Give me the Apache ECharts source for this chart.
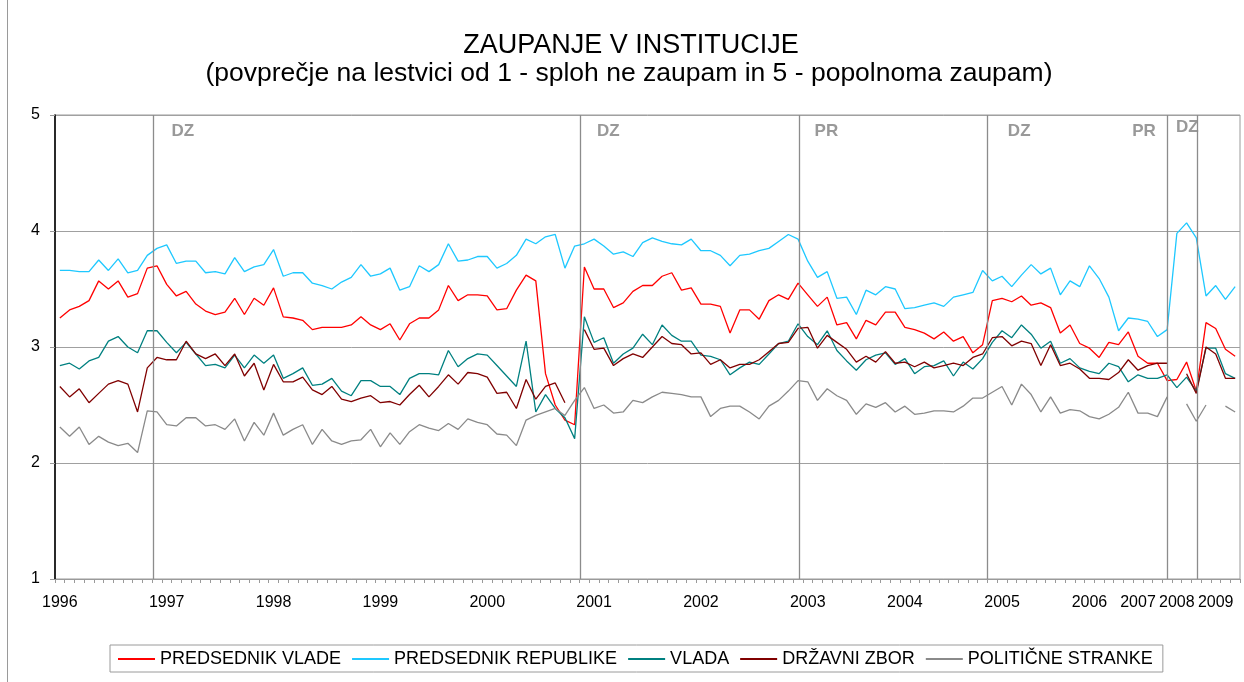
<!DOCTYPE html>
<html>
<head>
<meta charset="utf-8">
<script src="https://cdn.jsdelivr.net/npm/echarts@6/dist/echarts.min.js"></script>
<style>
html,body{margin:0;padding:0;background:#fff;}
#chart{width:1244px;height:682px;}
</style>
</head>
<body>
<div id="chart"></div>
<script>
// ---- data ----
var yearLabels = ['1996','1997','1998','1999','2000','2001','2002','2003','2004','2005','2006','2007','2008','2009'];
var yearIndex  = [0, 11, 22, 33, 44, 55, 66, 77, 87, 97, 106, 111, 115, 119];
var pointCount = 122;

var predsednikVlade = [3.25,3.32,3.35,3.40,3.57,3.50,3.57,3.43,3.46,3.68,3.70,3.54,3.44,3.48,3.37,3.31,3.28,3.30,3.42,3.28,
3.42,3.36,3.51,3.26,3.25,3.23,3.15,3.17,3.17,3.17,3.19,3.26,3.19,3.15,3.20,3.06,3.20,3.25,3.25,3.32,
3.53,3.40,3.45,3.45,3.44,3.32,3.33,3.49,3.62,3.57,2.77,2.50,2.37,2.33,3.69,3.50,3.50,3.34,3.38,3.48,
3.53,3.53,3.61,3.64,3.49,3.51,3.37,3.37,3.35,3.12,3.32,3.32,3.24,3.40,3.45,3.41,3.55,3.45,3.35,3.43,
3.19,3.21,3.07,3.23,3.19,3.30,3.30,3.17,3.15,3.12,3.07,3.13,3.05,3.09,2.95,3.02,3.40,3.42,3.39,3.44,
3.36,3.38,3.34,3.12,3.19,3.03,2.99,2.91,3.04,3.02,3.13,2.92,2.86,2.86,2.71,2.72,2.87,2.62,3.21,3.16,
2.98,2.92];
var predsednikRepublike = [3.66,3.66,3.65,3.65,3.75,3.66,3.76,3.64,3.66,3.79,3.85,3.88,3.72,3.74,3.74,3.64,3.65,3.63,3.77,3.65,
3.69,3.71,3.84,3.61,3.64,3.64,3.55,3.53,3.50,3.56,3.60,3.71,3.61,3.63,3.68,3.49,3.52,3.70,3.65,3.71,
3.89,3.74,3.75,3.78,3.78,3.68,3.72,3.79,3.93,3.89,3.95,3.97,3.68,3.87,3.89,3.93,3.87,3.80,3.82,3.78,
3.90,3.94,3.91,3.89,3.88,3.93,3.83,3.83,3.79,3.70,3.79,3.80,3.83,3.85,3.91,3.97,3.93,3.74,3.60,3.65,
3.42,3.43,3.28,3.49,3.45,3.52,3.50,3.33,3.34,3.36,3.38,3.35,3.43,3.45,3.47,3.66,3.57,3.61,3.52,3.62,
3.71,3.63,3.68,3.45,3.57,3.52,3.70,3.59,3.43,3.14,3.25,3.24,3.22,3.09,3.15,3.98,4.07,3.94,3.44,3.53,
3.41,3.52];
var vlada = [2.84,2.86,2.81,2.88,2.91,3.05,3.09,3.00,2.95,3.14,3.14,3.04,2.95,3.04,2.94,2.84,2.85,2.82,2.93,2.82,
2.93,2.86,2.93,2.73,2.77,2.82,2.67,2.68,2.73,2.62,2.58,2.71,2.71,2.66,2.66,2.59,2.73,2.77,2.77,2.76,
2.97,2.83,2.90,2.94,2.93,2.84,2.75,2.66,3.05,2.44,2.59,2.47,2.39,2.21,3.26,3.04,3.08,2.86,2.94,2.99,
3.11,3.02,3.19,3.10,3.05,3.05,2.93,2.92,2.89,2.76,2.82,2.87,2.85,2.94,3.03,3.05,3.20,3.09,3.02,3.14,
2.97,2.88,2.80,2.89,2.93,2.95,2.85,2.90,2.77,2.83,2.84,2.88,2.75,2.87,2.81,2.90,3.04,3.14,3.08,3.19,
3.11,2.99,3.05,2.86,2.90,2.82,2.79,2.77,2.86,2.83,2.70,2.76,2.73,2.73,2.76,2.65,2.74,2.62,2.99,2.99,
2.77,2.73];
var drzavniZbor = [2.66,2.57,2.64,2.52,2.60,2.68,2.71,2.68,2.44,2.82,2.91,2.89,2.89,3.05,2.94,2.90,2.94,2.84,2.94,2.75,
2.86,2.63,2.85,2.70,2.70,2.74,2.63,2.59,2.66,2.55,2.53,2.56,2.58,2.52,2.53,2.50,2.59,2.67,2.57,2.66,
2.76,2.68,2.78,2.77,2.74,2.60,2.61,2.47,2.72,2.55,2.66,2.69,2.52,null,3.15,2.98,2.99,2.84,2.90,2.94,
2.91,3.00,3.09,3.03,3.02,2.94,2.95,2.85,2.89,2.82,2.85,2.85,2.89,2.96,3.03,3.04,3.16,3.17,2.99,3.10,
3.04,2.98,2.87,2.92,2.87,2.96,2.86,2.87,2.83,2.87,2.82,2.84,2.86,2.84,2.91,2.94,3.08,3.09,3.01,3.05,
3.03,2.84,3.02,2.84,2.86,2.81,2.73,2.73,2.72,2.78,2.89,2.80,2.84,2.86,2.86,null,2.77,2.60,3.00,2.94,
2.73,2.73];
var politicneStranke = [2.31,2.23,2.31,2.16,2.23,2.18,2.15,2.17,2.09,2.45,2.44,2.33,2.32,2.39,2.39,2.32,2.33,2.29,2.38,2.19,
2.35,2.24,2.43,2.24,2.29,2.33,2.16,2.29,2.19,2.16,2.19,2.20,2.29,2.14,2.26,2.16,2.27,2.33,2.30,2.28,
2.34,2.29,2.38,2.35,2.33,2.25,2.24,2.15,2.37,2.41,2.44,2.47,2.41,2.54,2.65,2.47,2.50,2.43,2.44,2.54,
2.52,2.57,2.61,2.60,2.59,2.57,2.57,2.40,2.47,2.49,2.49,2.44,2.38,2.49,2.54,2.62,2.71,2.70,2.54,2.64,
2.58,2.54,2.42,2.51,2.48,2.52,2.44,2.49,2.42,2.43,2.45,2.45,2.44,2.49,2.56,2.56,2.61,2.66,2.50,2.68,
2.59,2.44,2.57,2.43,2.46,2.45,2.40,2.38,2.42,2.48,2.61,2.43,2.43,2.40,2.57,null,2.51,2.36,2.50,null,
2.49,2.44];

// events (position in category units, label text, label position)
var eventPos    = [9.6, 53.55, 76.1, 95.5, 114.05, 117.1];
var eventText   = ['DZ', 'DZ', 'PR', 'DZ', 'PR', 'DZ'];
var eventTextX  = [11.5, 55.3, 77.7, 97.6, 110.4, 114.9];
var eventTextY  = [4.86, 4.86, 4.86, 4.86, 4.86, 4.89];

var seriesNames  = ['PREDSEDNIK VLADE', 'PREDSEDNIK REPUBLIKE', 'VLADA', 'DRŽAVNI ZBOR', 'POLITIČNE STRANKE'];
var seriesColors = ['#ff0000', '#1ec8ff', '#008080', '#800000', '#8a8a8a'];
var seriesData   = [predsednikVlade, predsednikRepublike, vlada, drzavniZbor, politicneStranke];

// ---- build ----
var categories = [];
var labelMap = {};
for (var k = 0; k < yearIndex.length; k++) labelMap[yearIndex[k]] = yearLabels[k];
for (var i = 0; i < pointCount; i++) categories.push(String(i));

var FONT = "'Liberation Sans', Arial, sans-serif";

var series = [];
for (var s = 0; s < seriesNames.length; s++) {
  series.push({
    name: seriesNames[s],
    type: 'line',
    data: seriesData[s],
    symbol: 'none',
    connectNulls: false,
    lineStyle: { color: seriesColors[s], width: 1.3 },
    itemStyle: { color: seriesColors[s] },
    emphasis: { disabled: true },
    animation: false
  });
}
// event lines
series.push({
  name: 'events',
  type: 'line',
  xAxisIndex: 1,
  yAxisIndex: 0,
  data: [],
  silent: true,
  animation: false,
  markLine: {
    silent: true,
    symbol: 'none',
    label: { show: false },
    lineStyle: { color: '#8c8c8c', width: 1.3, type: 'solid' },
    data: eventPos.map(function (p) { return { xAxis: p }; }),
    animation: false
  }
});
series.push({
  name: 'eventLabels',
  type: 'scatter',
  xAxisIndex: 1,
  yAxisIndex: 0,
  symbolSize: 0,
  silent: true,
  animation: false,
  data: eventText.map(function (t, j) { return { value: [eventTextX[j], eventTextY[j]], name: t }; }),
  label: {
    show: true,
    position: [0, 0],
    align: 'left',
    verticalAlign: 'middle',
    formatter: function (p) { return p.name; },
    color: '#808080',
    fontWeight: 'bold',
    fontSize: 17,
    fontFamily: FONT
  }
});

var chart = echarts.init(document.getElementById('chart'), null, { renderer: 'canvas' });
chart.setOption({
  animation: false,
  backgroundColor: '#ffffff',
  graphic: [
    { type: 'line', shape: { x1: 7.5, y1: 0, x2: 7.5, y2: 682 }, style: { stroke: '#9a9a9a', lineWidth: 1 }, silent: true },
    { type: 'text', x: 631, y: 46, style: { text: 'ZAUPANJE V INSTITUCIJE', font: '27px ' + FONT, fill: '#000', textAlign: 'center', textVerticalAlign: 'middle' }, silent: true },
    { type: 'text', x: 629, y: 74, style: { text: '(povprečje na lestvici od 1 - sploh ne zaupam in 5 - popolnoma zaupam)', font: '26.5px ' + FONT, fill: '#000', textAlign: 'center', textVerticalAlign: 'middle' }, silent: true }
  ],
  grid: {
    left: 55, right: 4, top: 115, bottom: 103,
    show: true, borderColor: '#9a9a9a', borderWidth: 1, backgroundColor: 'transparent',
    containLabel: false
  },
  legend: {
    data: seriesNames,
    left: 110, top: 645,
    orient: 'horizontal',
    icon: 'rect',
    itemWidth: 37, itemHeight: 2, itemGap: 11,
    padding: [5, 10, 4, 8],
    borderColor: '#9a9a9a', borderWidth: 1,
    textStyle: { fontSize: 18, color: '#000', fontFamily: FONT },
    selectedMode: false
  },
  xAxis: [{
    type: 'category',
    data: categories,
    boundaryGap: true,
    axisLine: { show: true, lineStyle: { color: '#9a9a9a', width: 1 } },
    axisTick: { show: true, interval: 0, length: 4, lineStyle: { color: '#9a9a9a' } },
    axisLabel: {
      interval: 0, margin: 16, fontSize: 16, color: '#000', fontFamily: FONT,
      formatter: function (v, idx) { return labelMap[idx] !== undefined ? labelMap[idx] : ''; }
    },
    splitLine: { show: false }
  }, {
    type: 'value',
    min: -0.5, max: pointCount - 0.5,
    show: false,
    gridIndex: 0
  }],
  yAxis: [{
    type: 'value',
    min: 1, max: 5, interval: 1,
    axisLine: { show: true, onZero: false, lineStyle: { color: '#000', width: 1.6 } },
    axisTick: { show: true, length: 5, lineStyle: { color: '#9a9a9a' } },
    axisLabel: { margin: 15, fontSize: 16, color: '#000', fontFamily: FONT },
    splitLine: { show: true, lineStyle: { color: '#a0a0a0', width: 1 } }
  }],
  series: series
});
</script>
</body>
</html>
